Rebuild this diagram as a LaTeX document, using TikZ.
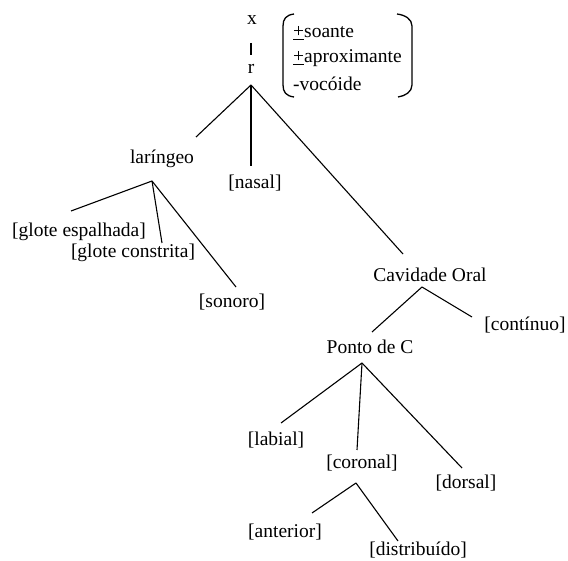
\documentclass[tikz,border=0pt]{standalone}
\usepackage{fontspec}
\setmainfont{Liberation Serif}
\begin{document}
\begin{tikzpicture}[x=1pt,y=-1pt,
  lbl/.style={inner sep=0pt, font=\fontsize{19.5}{23}\selectfont},
  edge/.style={line width=1.1pt},
  paren/.style={line width=1.3pt}]
\useasboundingbox (0,0) rectangle (568,561);
% labels
\node[lbl] (x) at (252,20) {x};
\node[lbl] (r) at (251,69) {r};
\node[lbl,anchor=west] (f1) at (293,33) {\underline{+}soante};
\node[lbl,anchor=west] (f2) at (293,58) {\underline{+}aproximante};
\node[lbl,anchor=west] (f3) at (293,84) {-vocóide};
\node[lbl] (lar) at (162,159) {laríngeo};
\node[lbl] (nasal) at (255,183) {[nasal]};
\node[lbl] (ge) at (79,232) {[glote espalhada]};
\node[lbl] (gc) at (133,253) {[glote constrita]};
\node[lbl] (son) at (232,302) {[sonoro]};
\node[lbl] (cav) at (430,275) {Cavidade Oral};
\node[lbl] (cont) at (525,325) {[contínuo]};
\node[lbl] (pc) at (370,347) {Ponto de C};
\node[lbl] (lab) at (276,440) {[labial]};
\node[lbl] (cor) at (362,463) {[coronal]};
\node[lbl] (dor) at (466,483) {[dorsal]};
\node[lbl] (ant) at (285,532) {[anterior]};
\node[lbl] (dis) at (418,550) {[distribuído]};
% coordinates
\coordinate (xr1) at (251,43); \coordinate (xr2) at (251,55);
\coordinate (rA) at (251,85);
\coordinate (rL) at (196,137); \coordinate (rN) at (251,166); \coordinate (rC) at (403,254);
\coordinate (lA) at (152,181);
\coordinate (lE) at (71,211); \coordinate (lG) at (162,243); \coordinate (lS) at (236,287);
\coordinate (cA) at (422,287);
\coordinate (cP) at (372,332); \coordinate (cC) at (472,317);
\coordinate (pA) at (362,363);
\coordinate (pL) at (281,423); \coordinate (pC) at (357,450); \coordinate (pD) at (462,468);
\coordinate (kA) at (356,483);
\coordinate (kA1) at (312,513); \coordinate (kD) at (398,541);
% connectors
\draw[edge] (xr1) -- (xr2);
\draw[edge] (rA) -- (rL);
\draw[edge] (rA) -- (rN);
\draw[edge] (rA) -- (rC);
\draw[edge] (lA) -- (lE);
\draw[edge] (lA) -- (lG);
\draw[edge] (lA) -- (lS);
\draw[edge] (cA) -- (cP);
\draw[edge] (cA) -- (cC);
\draw[edge] (pA) -- (pL);
\draw[edge] (pA) -- (pC);
\draw[edge] (pA) -- (pD);
\draw[edge] (kA) -- (kA1);
\draw[edge] (kA) -- (kD);
% parentheses
\draw[paren] (294,14) .. controls (286,15) and (283,19) .. (283,26) -- (283,85) .. controls (283,92) and (286,96) .. (294,97);
\draw[paren] (397,14) .. controls (405,15) and (412,19) .. (412,26) -- (412,85) .. controls (412,92) and (405,96) .. (398,97);
\end{tikzpicture}
\end{document}
